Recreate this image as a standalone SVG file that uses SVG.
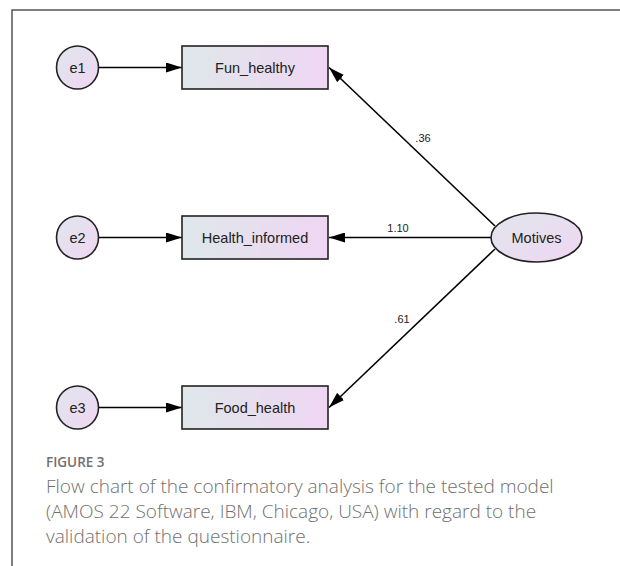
<svg xmlns="http://www.w3.org/2000/svg" width="620" height="566" viewBox="0 0 620 566">
<defs>
<linearGradient id="gRect" x1="0" y1="0" x2="1" y2="0">
<stop offset="0" stop-color="#dfe7ea"/>
<stop offset="1" stop-color="#efd6f3"/>
</linearGradient>
<linearGradient id="gEll" x1="0" y1="0" x2="1" y2="1">
<stop offset="0" stop-color="#e0e6ec"/>
<stop offset="1" stop-color="#f0d6f3"/>
</linearGradient>
<marker id="arr" viewBox="0 0 16 10" refX="16" refY="5" markerWidth="16" markerHeight="10" markerUnits="userSpaceOnUse" orient="auto">
<path d="M0,0 L16,5 L0,10 Z" fill="#000"/>
</marker>
<style>
.node{stroke:#222;stroke-width:1.6}
.lbl{font-family:"Liberation Sans",Arial,sans-serif;font-size:14.5px;fill:#222;text-anchor:middle}
.coef{font-family:"Liberation Sans",Arial,sans-serif;font-size:11px;fill:#222;text-anchor:middle}
.edge{stroke:#000;stroke-width:1.6;fill:none;marker-end:url(#arr)}
.cap{font-family:"Open Sans","Liberation Sans",sans-serif;fill:#707070}
</style>
</defs>
<rect width="620" height="566" fill="#fff"/>
<path d="M12,566 L12,10 L620,10" fill="none" stroke="#555" stroke-width="1.5"/>
<g id="connectors">
<line class="edge" x1="99" y1="67.5" x2="182" y2="67.5"/>
<line class="edge" x1="99" y1="237.5" x2="182" y2="237.5"/>
<line class="edge" x1="99" y1="407.5" x2="182" y2="407.5"/>
<line class="edge" x1="495" y1="226" x2="329" y2="67.5"/>
<line class="edge" x1="491" y1="237.5" x2="329" y2="237.5"/>
<line class="edge" x1="495" y1="249" x2="329" y2="407.5"/>
<text class="coef" x="423" y="142">.36</text>
<text class="coef" x="398" y="232">1.10</text>
<text class="coef" x="402" y="323">.61</text>
</g>
<g id="e1"><ellipse class="node" cx="77.5" cy="67.5" rx="21" ry="21.5" fill="url(#gEll)"/><text class="lbl" x="77.5" y="72.5">e1</text></g>
<g id="e2"><ellipse class="node" cx="77.5" cy="237.5" rx="21" ry="21.5" fill="url(#gEll)"/><text class="lbl" x="77.5" y="242.5">e2</text></g>
<g id="e3"><ellipse class="node" cx="77.5" cy="407.5" rx="21" ry="21.5" fill="url(#gEll)"/><text class="lbl" x="77.5" y="412.5">e3</text></g>
<g id="Fun_healthy"><rect class="node" x="182" y="46" width="146" height="43" fill="url(#gRect)"/><text class="lbl" x="255" y="72.5">Fun_healthy</text></g>
<g id="Health_informed"><rect class="node" x="182" y="216" width="146" height="43" fill="url(#gRect)"/><text class="lbl" x="255" y="242.5">Health_informed</text></g>
<g id="Food_health"><rect class="node" x="182" y="386" width="146" height="43" fill="url(#gRect)"/><text class="lbl" x="255" y="412.5">Food_health</text></g>
<g id="Motives"><ellipse class="node" cx="536.5" cy="237.5" rx="45.5" ry="24.5" fill="url(#gEll)"/><text class="lbl" x="536.5" y="242.5">Motives</text></g>
<g id="caption">
<text class="cap" x="46" y="467" font-size="13.5" font-weight="600">FIGURE 3</text>
<text class="cap" x="46" y="493" font-size="19" font-weight="300">Flow chart of the confirmatory analysis for the tested model</text>
<text class="cap" x="46" y="518" font-size="19" font-weight="300">(AMOS 22 Software, IBM, Chicago, USA) with regard to the</text>
<text class="cap" x="46" y="543" font-size="19" font-weight="300">validation of the questionnaire.</text>
</g>
</svg>
